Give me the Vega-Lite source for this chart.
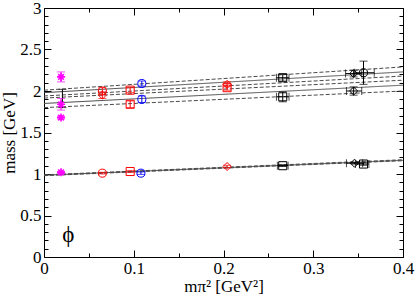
{
  "$schema": "https://vega.github.io/schema/vega-lite/v6.json",
  "width": 359,
  "height": 249,
  "autosize": "none",
  "padding": {"left": 44, "top": 8, "right": 12, "bottom": 48},
  "background": "white",
  "config": {
    "view": {"stroke": null},
    "axis": {
      "labelFont": "Liberation Serif",
      "labelFontSize": 17,
      "labelColor": "black",
      "titleFont": "Liberation Serif",
      "titleFontSize": 17,
      "titleFontWeight": "normal",
      "titleColor": "black",
      "domainColor": "black",
      "tickColor": "black",
      "grid": false
    }
  },
  "datasets": {
    "pts": [
      {"s": "magenta", "m": "star", "mk": true, "x": 0.019, "y": 1.02, "ylo": 1.01, "yhi": 1.03},
      {"s": "red", "m": "circle", "mk": true, "x": 0.065, "y": 1.01, "ylo": 1.0, "yhi": 1.02},
      {"s": "red", "m": "square", "mk": true, "x": 0.096, "y": 1.03, "ylo": 1.02, "yhi": 1.04},
      {"s": "blue", "m": "circle", "mk": true, "x": 0.108, "y": 1.01, "ylo": 0.995, "yhi": 1.025},
      {"s": "red", "m": "diamond", "mk": true, "x": 0.204, "y": 1.09, "ylo": 1.075, "yhi": 1.105},
      {"s": "black", "m": "square", "mk": true, "x": 0.266, "y": 1.10, "ylo": 1.09, "yhi": 1.11, "xlo": 0.26, "xhi": 0.272},
      {"s": "black", "m": "diamond", "mk": true, "x": 0.346, "y": 1.13, "ylo": 1.12, "yhi": 1.14, "xlo": 0.337, "xhi": 0.355},
      {"s": "black", "m": "square", "mk": true, "x": 0.356, "y": 1.12, "ylo": 1.105, "yhi": 1.135, "xlo": 0.347, "xhi": 0.362},
      {"s": "magenta", "m": "star", "mk": true, "x": 0.019, "y": 2.17, "ylo": 2.11, "yhi": 2.23},
      {"s": "magenta", "m": "star", "mk": true, "x": 0.019, "y": 1.84, "ylo": 1.77, "yhi": 1.91},
      {"s": "magenta", "m": "star", "mk": true, "x": 0.019, "y": 1.68, "ylo": 1.665, "yhi": 1.695},
      {"s": "black", "m": "circle", "mk": false, "x": 0.0205, "y": 1.91, "ylo": 1.80, "yhi": 2.02},
      {"s": "red", "m": "circle", "mk": true, "x": 0.065, "y": 2.00, "ylo": 1.96, "yhi": 2.04},
      {"s": "red", "m": "diamond", "mk": true, "x": 0.065, "y": 1.95, "ylo": 1.91, "yhi": 1.99},
      {"s": "red", "m": "square", "mk": true, "x": 0.096, "y": 2.01, "ylo": 1.98, "yhi": 2.04},
      {"s": "red", "m": "square", "mk": true, "x": 0.096, "y": 1.84, "ylo": 1.80, "yhi": 1.88},
      {"s": "blue", "m": "circle", "mk": true, "x": 0.109, "y": 2.09, "ylo": 2.06, "yhi": 2.12},
      {"s": "blue", "m": "circle", "mk": true, "x": 0.109, "y": 1.90, "ylo": 1.86, "yhi": 1.94},
      {"s": "red", "m": "diamond", "mk": true, "x": 0.204, "y": 2.08, "ylo": 2.05, "yhi": 2.11},
      {"s": "red", "m": "square", "mk": true, "x": 0.204, "y": 2.04, "ylo": 2.01, "yhi": 2.07},
      {"s": "black", "m": "square", "mk": true, "x": 0.266, "y": 2.16, "ylo": 2.12, "yhi": 2.20, "xlo": 0.259, "xhi": 0.273},
      {"s": "black", "m": "square", "mk": true, "x": 0.266, "y": 1.93, "ylo": 1.87, "yhi": 1.99, "xlo": 0.259, "xhi": 0.273},
      {"s": "black", "m": "diamond", "mk": true, "x": 0.345, "y": 2.21, "ylo": 2.17, "yhi": 2.25, "xlo": 0.336, "xhi": 0.354},
      {"s": "black", "m": "circle", "mk": true, "x": 0.356, "y": 2.22, "ylo": 2.08, "yhi": 2.36, "xlo": 0.346, "xhi": 0.368},
      {"s": "black", "m": "diamond", "mk": true, "x": 0.345, "y": 2.00, "ylo": 1.95, "yhi": 2.05, "xlo": 0.337, "xhi": 0.354}
    ],
    "fits": [
      {"id": "u1", "st": "solid", "x": 0, "y": 1.98}, {"id": "u1", "st": "solid", "x": 0.4, "y": 2.23},
      {"id": "u1h", "st": "dash", "x": 0, "y": 2.01}, {"id": "u1h", "st": "dash", "x": 0.4, "y": 2.29},
      {"id": "u1l", "st": "dash", "x": 0, "y": 1.94}, {"id": "u1l", "st": "dash", "x": 0.4, "y": 2.18},
      {"id": "u2", "st": "solid", "x": 0, "y": 1.85}, {"id": "u2", "st": "solid", "x": 0.4, "y": 2.07},
      {"id": "u2h", "st": "dash", "x": 0, "y": 1.915}, {"id": "u2h", "st": "dash", "x": 0.4, "y": 2.13},
      {"id": "u2l", "st": "dash", "x": 0, "y": 1.80}, {"id": "u2l", "st": "dash", "x": 0.4, "y": 2.00},
      {"id": "l", "st": "solid", "x": 0, "y": 0.985}, {"id": "l", "st": "solid", "x": 0.4, "y": 1.165},
      {"id": "lh", "st": "dash", "x": 0, "y": 0.99}, {"id": "lh", "st": "dash", "x": 0.4, "y": 1.172},
      {"id": "ll", "st": "dash", "x": 0, "y": 0.98}, {"id": "ll", "st": "dash", "x": 0.4, "y": 1.16}
    ],
    "lab": [{"x": 0.027, "y": 0.26, "t": "ϕ"}]
  },
  "resolve": {"axis": {"x": "independent", "y": "independent"}},
  "layer": [
    {
      "data": {"name": "fits"},
      "mark": {"type": "line", "strokeWidth": 1, "color": "#4a4a4a"},
      "encoding": {
        "x": {"field": "x", "type": "quantitative",
              "scale": {"domain": [0, 0.4], "nice": false, "zero": false},
              "axis": {"orient": "bottom", "values": [0, 0.1, 0.2, 0.3, 0.4], "format": "~g", "tickSize": -7, "labelPadding": 10, "title": "mπ² [GeV²]", "titlePadding": 2, "labelFlush": false}},
        "y": {"field": "y", "type": "quantitative",
              "scale": {"domain": [0, 3], "nice": false, "zero": false},
              "axis": {"orient": "left", "values": [0, 0.5, 1, 1.5, 2, 2.5, 3], "format": "~g", "tickSize": -7, "labelPadding": 10, "title": "mass [GeV]", "titlePadding": 1, "labelFlush": false}},
        "detail": {"field": "id"},
        "strokeDash": {"field": "st", "type": "nominal", "scale": {"domain": ["solid", "dash"], "range": [[1, 0], [4, 2]]}, "legend": null}
      }
    },
    {
      "data": {"name": "pts"},
      "mark": {"type": "rule", "strokeWidth": 1},
      "encoding": {
        "x": {"field": "x", "type": "quantitative",
              "axis": {"orient": "top", "values": [0, 0.1, 0.2, 0.3, 0.4], "tickSize": -7, "labels": false, "title": null}},
        "y": {"field": "ylo", "type": "quantitative",
              "axis": {"orient": "right", "values": [0, 0.5, 1, 1.5, 2, 2.5, 3], "tickSize": -7, "labels": false, "title": null}},
        "y2": {"field": "yhi"},
        "color": {"field": "s", "type": "nominal", "scale": {"domain": ["red", "blue", "black", "magenta"], "range": ["#ff0000", "#0000ff", "#000000", "#ff00ff"]}, "legend": null}
      }
    },
    {
      "data": {"name": "pts"},
      "mark": {"type": "tick", "orient": "horizontal", "size": 8, "thickness": 1},
      "encoding": {
        "x": {"field": "x", "type": "quantitative",
              "axis": {"orient": "bottom", "values": [0.05, 0.15, 0.25, 0.35], "tickSize": -4, "labels": false, "domain": false, "title": null}},
        "y": {"field": "ylo", "type": "quantitative",
              "axis": {"orient": "left", "values": [0.1, 0.2, 0.3, 0.4, 0.6, 0.7, 0.8, 0.9, 1.1, 1.2, 1.3, 1.4, 1.6, 1.7, 1.8, 1.9, 2.1, 2.2, 2.3, 2.4, 2.6, 2.7, 2.8, 2.9], "tickSize": -4, "labels": false, "domain": false, "title": null}},
        "color": {"field": "s", "type": "nominal", "legend": null}
      }
    },
    {
      "data": {"name": "pts"},
      "mark": {"type": "tick", "orient": "horizontal", "size": 8, "thickness": 1},
      "encoding": {
        "x": {"field": "x", "type": "quantitative",
              "axis": {"orient": "top", "values": [0.05, 0.15, 0.25, 0.35], "tickSize": -4, "labels": false, "domain": false, "title": null}},
        "y": {"field": "yhi", "type": "quantitative",
              "axis": {"orient": "right", "values": [0.1, 0.2, 0.3, 0.4, 0.6, 0.7, 0.8, 0.9, 1.1, 1.2, 1.3, 1.4, 1.6, 1.7, 1.8, 1.9, 2.1, 2.2, 2.3, 2.4, 2.6, 2.7, 2.8, 2.9], "tickSize": -4, "labels": false, "domain": false, "title": null}},
        "color": {"field": "s", "type": "nominal", "legend": null}
      }
    },
    {
      "data": {"name": "pts"},
      "transform": [{"filter": "isValid(datum.xlo)"}],
      "mark": {"type": "rule", "strokeWidth": 1},
      "encoding": {
        "x": {"field": "xlo", "type": "quantitative", "axis": null},
        "x2": {"field": "xhi"},
        "y": {"field": "y", "type": "quantitative", "axis": null},
        "color": {"field": "s", "type": "nominal", "legend": null}
      }
    },
    {
      "data": {"name": "pts"},
      "transform": [{"filter": "isValid(datum.xlo)"}],
      "mark": {"type": "tick", "orient": "vertical", "size": 8, "thickness": 1},
      "encoding": {
        "x": {"field": "xlo", "type": "quantitative", "axis": null},
        "y": {"field": "y", "type": "quantitative", "axis": null},
        "color": {"field": "s", "type": "nominal", "legend": null}
      }
    },
    {
      "data": {"name": "pts"},
      "transform": [{"filter": "isValid(datum.xlo)"}],
      "mark": {"type": "tick", "orient": "vertical", "size": 8, "thickness": 1},
      "encoding": {
        "x": {"field": "xhi", "type": "quantitative", "axis": null},
        "y": {"field": "y", "type": "quantitative", "axis": null},
        "color": {"field": "s", "type": "nominal", "legend": null}
      }
    },
    {
      "data": {"name": "pts"},
      "transform": [{"filter": "datum.mk"}],
      "mark": {"type": "point", "filled": false, "size": 65, "strokeWidth": 1, "opacity": 1},
      "encoding": {
        "x": {"field": "x", "type": "quantitative", "axis": null},
        "y": {"field": "y", "type": "quantitative", "axis": null},
        "color": {"field": "s", "type": "nominal", "legend": null},
        "shape": {"field": "m", "type": "nominal", "legend": null,
                  "scale": {"domain": ["circle", "square", "diamond", "star"],
                            "range": ["circle", "square", "diamond", "M-1,0L1,0M0,-1L0,1M-0.7,-0.7L0.7,0.7M-0.7,0.7L0.7,-0.7"]}},
        "strokeWidth": {"condition": {"test": "datum.m == 'star'", "value": 1.6}, "value": 1}
      }
    },
    {
      "data": {"name": "lab"},
      "mark": {"type": "text", "font": "Liberation Serif", "fontSize": 23, "color": "black", "align": "center", "baseline": "middle"},
      "encoding": {
        "x": {"field": "x", "type": "quantitative", "axis": null},
        "y": {"field": "y", "type": "quantitative", "axis": null},
        "text": {"field": "t"}
      }
    }
  ]
}
